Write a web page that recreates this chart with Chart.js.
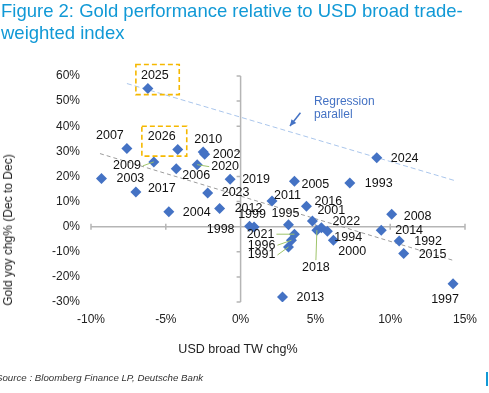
<!DOCTYPE html>
<html lang="en">
<head>
  <meta charset="UTF-8">
  <title>Gold vs USD broad TW index</title>
  <script src="https://cdn.jsdelivr.net/npm/chart.js"></script>
  <style>
    body {
      margin: 0;
      width: 489px;
      height: 393px;
      overflow: hidden;
      background: #fff;
      font-family: "Liberation Sans", Arial, sans-serif;
      position: relative;
    }
    .title {
      position: absolute;
      left: 1px;
      top: 0;
      font-size: 18.5px;
      line-height: 22px;
      color: #1199d6;
      white-space: nowrap;
    }
    .chart-box {
      position: absolute;
      left: 0;
      top: 0;
      width: 489px;
      height: 393px;
    }
    .ytitle {
      position: absolute;
      left: 8px;
      top: 230px;
      transform: translate(-50%, -50%) rotate(-90deg);
      font-size: 12px;
      color: #222;
      white-space: nowrap;
    }
    .xtitle {
      position: absolute;
      left: 238px;
      top: 349px;
      transform: translate(-50%, -50%);
      font-size: 12.5px;
      color: #222;
      white-space: nowrap;
    }
    .source {
      position: absolute;
      left: -4px;
      top: 372px;
      font-size: 9.7px;
      font-style: italic;
      color: #333;
      white-space: nowrap;
    }
    .bar {
      position: absolute;
      left: 486px;
      top: 372px;
      width: 2px;
      height: 14px;
      background: #1199d6;
    }
  </style>
</head>
<body>

<div class="chart-box"><canvas id="goldChart"></canvas></div>
<div class="title">Figure 2: Gold performance relative to USD broad trade-<br>weighted index</div>
<div class="ytitle">Gold yoy chg% (Dec to Dec)</div>
<div class="xtitle">USD broad TW chg%</div>
<div class="source">Source : Bloomberg Finance LP, Deutsche Bank</div>
<div class="bar"></div>

<script>
  // years, USD broad TW change (%) and gold yoy change (%)
  const years = ['2025', '2007', '2026', '2010', '2002', '2020', '2009', '2006', '2003', '2019',
                 '2017', '2023', '2004', '2012', '1998', '1999', '2021', '1996', '1991', '1995',
                 '2011', '2005', '1993', '2016', '2001', '2022', '2018', '1994', '2000', '2013',
                 '2024', '2008', '2014', '1992', '2015', '1997'];
  const usdChg = [-6.2, -7.6, -4.2, -2.5, -2.4, -2.9, -5.8, -4.3, -9.3, -0.7,
                  -7.0, -2.2, -4.8, -1.4, 0.6, 0.9, 3.6, 3.4, 3.2, 3.2,
                  2.1, 3.6, 7.3, 4.4, 4.8, 5.4, 5.1, 5.8, 6.2, 2.8,
                  9.1, 10.1, 9.4, 10.6, 10.9, 14.2];
  const goldChg = [55.0, 31.1, 30.7, 29.7, 28.8, 24.7, 25.8, 23.1, 19.2, 18.9,
                   13.8, 13.4, 5.9, 7.2, 0.2, -0.1, -3.0, -5.4, -8.1, 0.8,
                   10.2, 18.1, 17.4, 8.1, 2.3, -0.4, -1.4, -1.8, -5.4, -28.0,
                   27.4, 4.9, -1.4, -5.7, -10.7, -22.7];

  // regression line and its parallel through 2025 (end points)
  const regX = [-9.4, 14.2];
  const regY = [29.1, -13.4];
  const parX = [-7.6, 14.4];
  const parY = [57.0, 18.2];

  const xTicks = [-10, -5, 0, 5, 10, 15];
  const yTicks = [-30, -20, -10, 0, 10, 20, 30, 40, 50, 60];

  // label placement: [align, dx, dy] in px relative to the point
  const labelPos = {
    '2025': ['c', 7, -13], '2007': ['c', -17, -13], '2026': ['c', -16, -13], '2010': ['c', 5, -13],
    '2002': ['l', 8, 0], '2020': ['l', 14, 2], '2009': ['r', -13, 4], '2006': ['l', 6, 7],
    '2003': ['l', 15, 0], '2019': ['l', 12, 0], '2017': ['l', 12, -3], '2023': ['l', 14, 0],
    '2004': ['l', 14, 1], '2012': ['l', 15, 0], '1999': ['c', -2, -12], '1998': ['r', -15, 3],
    '2021': ['r', -20, 0], '1996': ['r', -16, 5], '1991': ['r', -13, 8], '1995': ['c', -3, -11],
    '2011': ['l', 2, -6], '2005': ['l', 7, 3], '1993': ['l', 15, 1], '2016': ['l', 8, -5],
    '2001': ['l', 5, -10], '2022': ['l', 11, -6], '1994': ['l', 7, 6], '2000': ['l', 5, 11],
    '2018': ['c', -1, 37], '2013': ['l', 14, 1], '2024': ['l', 14, 1], '2008': ['l', 12, 2],
    '2014': ['l', 14, 0], '1992': ['l', 15, 1], '2015': ['l', 15, 1], '1997': ['c', -8, 16]
  };
  const leaders = ['2009', '2020', '2021', '1996', '1991', '2018'];

  // highlight boxes and the arrow note, in axis units
  const boxes = [[-7.0, 64.6, -4.1, 52.6], [-6.6, 40.0, -3.6, 28.1]];
  const note = { x: 4.9, y: 48.5, arrow: [4.0, 45.4, 3.3, 40.1] };

  const points = years.map((y, i) => ({ x: usdChg[i], y: goldChg[i] }));

  // axes crossing at zero, with small tick marks
  const zeroAxes = {
    id: 'zeroAxes',
    beforeDatasetsDraw(chart) {
      const { ctx, scales: { x, y } } = chart;
      const x0 = x.getPixelForValue(0);
      const y0 = y.getPixelForValue(0);
      ctx.save();
      ctx.strokeStyle = '#b5b5b5';
      ctx.lineWidth = 1.5;
      ctx.beginPath();
      ctx.moveTo(x.getPixelForValue(-10), y0);
      ctx.lineTo(x.getPixelForValue(15), y0);
      ctx.moveTo(x0, y.getPixelForValue(60));
      ctx.lineTo(x0, y.getPixelForValue(-30));
      xTicks.forEach(v => {
        const px = x.getPixelForValue(v);
        ctx.moveTo(px, y0 - 3);
        ctx.lineTo(px, y0 + 3);
      });
      yTicks.forEach(v => {
        const py = y.getPixelForValue(v);
        ctx.moveTo(x0 - 4, py);
        ctx.lineTo(x0, py);
      });
      ctx.stroke();
      ctx.restore();
    }
  };

  const labelsAndNotes = {
    id: 'labelsAndNotes',
    afterDatasetsDraw(chart) {
      const { ctx, scales: { x, y } } = chart;
      const meta = chart.getDatasetMeta(0);
      ctx.save();

      // leader lines
      ctx.strokeStyle = '#9fc46a';
      ctx.lineWidth = 1;
      leaders.forEach(yr => {
        const el = meta.data[years.indexOf(yr)];
        const [al, dx, dy] = labelPos[yr];
        let lx = el.x + dx, ly = el.y + dy;
        if (al === 'r') lx += 2;
        if (al === 'l') lx -= 2;
        if (al === 'c') ly -= 7;
        ctx.beginPath();
        ctx.moveTo(lx, ly);
        ctx.lineTo(el.x, el.y);
        ctx.stroke();
      });

      // year labels
      ctx.font = '12.5px "Liberation Sans", Arial, sans-serif';
      ctx.fillStyle = '#111';
      ctx.textBaseline = 'middle';
      years.forEach((yr, i) => {
        const el = meta.data[i];
        const [al, dx, dy] = labelPos[yr];
        ctx.textAlign = al === 'l' ? 'left' : al === 'r' ? 'right' : 'center';
        ctx.fillText(yr, el.x + dx, el.y + dy);
      });

      // dashed highlight boxes
      ctx.strokeStyle = '#f5b800';
      ctx.lineWidth = 1.6;
      ctx.setLineDash([5, 3]);
      boxes.forEach(b => {
        const l = x.getPixelForValue(b[0]), t = y.getPixelForValue(b[1]);
        const r = x.getPixelForValue(b[2]), bt = y.getPixelForValue(b[3]);
        ctx.strokeRect(l, t, r - l, bt - t);
      });
      ctx.setLineDash([]);

      // regression note and arrow
      ctx.fillStyle = '#4472c4';
      ctx.textAlign = 'left';
      ctx.textBaseline = 'alphabetic';
      ctx.font = '12px "Liberation Sans", Arial, sans-serif';
      const nx = x.getPixelForValue(note.x), ny = y.getPixelForValue(note.y);
      ctx.fillText('Regression', nx, ny);
      ctx.fillText('parallel', nx, ny + 13.5);
      const [ax1, ay1, ax2, ay2] = note.arrow;
      const p1 = [x.getPixelForValue(ax1), y.getPixelForValue(ay1)];
      const p2 = [x.getPixelForValue(ax2), y.getPixelForValue(ay2)];
      ctx.strokeStyle = '#4472c4';
      ctx.lineWidth = 1.5;
      ctx.beginPath();
      ctx.moveTo(p1[0], p1[1]);
      ctx.lineTo(p2[0], p2[1]);
      ctx.stroke();
      const ang = Math.atan2(p2[1] - p1[1], p2[0] - p1[0]);
      ctx.beginPath();
      ctx.moveTo(p2[0], p2[1]);
      ctx.lineTo(p2[0] - 7 * Math.cos(ang - 0.45), p2[1] - 7 * Math.sin(ang - 0.45));
      ctx.lineTo(p2[0] - 7 * Math.cos(ang + 0.45), p2[1] - 7 * Math.sin(ang + 0.45));
      ctx.closePath();
      ctx.fill();

      ctx.restore();
    }
  };

  new Chart(document.getElementById('goldChart'), {
    type: 'scatter',
    data: {
      datasets: [
        {
          label: 'Years',
          data: points,
          pointStyle: 'rectRot',
          pointRadius: 5.5,
          pointHoverRadius: 5.5,
          backgroundColor: '#4472c4',
          borderColor: '#4472c4',
          borderWidth: 0
        },
        {
          type: 'line',
          label: 'Regression',
          data: regX.map((v, i) => ({ x: v, y: regY[i] })),
          borderColor: '#9c9c9c',
          borderWidth: 1,
          borderDash: [4, 3],
          pointRadius: 0,
          fill: false
        },
        {
          type: 'line',
          label: 'Regression parallel',
          data: parX.map((v, i) => ({ x: v, y: parY[i] })),
          borderColor: '#aac6ec',
          borderWidth: 1,
          borderDash: [5, 3],
          pointRadius: 0,
          fill: false
        }
      ]
    },
    options: {
      responsive: true,
      maintainAspectRatio: false,
      animation: false,
      layout: { padding: { left: 0, right: 24, top: 76, bottom: 0 } },
      plugins: {
        legend: { display: false },
        tooltip: { enabled: false }
      },
      scales: {
        x: {
          type: 'linear',
          min: -10,
          max: 15,
          afterBuildTicks: s => { s.ticks = xTicks.map(v => ({ value: v })); },
          afterFit: s => { s.height = 91; },
          grid: { display: false, drawTicks: false },
          border: { display: false },
          ticks: {
            padding: 10,
            color: '#222',
            font: { size: 12, family: '"Liberation Sans", Arial, sans-serif' },
            callback: v => v + '%'
          }
        },
        y: {
          min: -30,
          max: 60,
          afterBuildTicks: s => { s.ticks = yTicks.map(v => ({ value: v })); },
          afterFit: s => { s.width = 91; },
          grid: { display: false, drawTicks: false },
          border: { display: false },
          ticks: {
            padding: 11,
            color: '#222',
            font: { size: 12, family: '"Liberation Sans", Arial, sans-serif' },
            callback: v => v + '%'
          }
        }
      }
    },
    plugins: [zeroAxes, labelsAndNotes]
  });
</script>
</body>
</html>
